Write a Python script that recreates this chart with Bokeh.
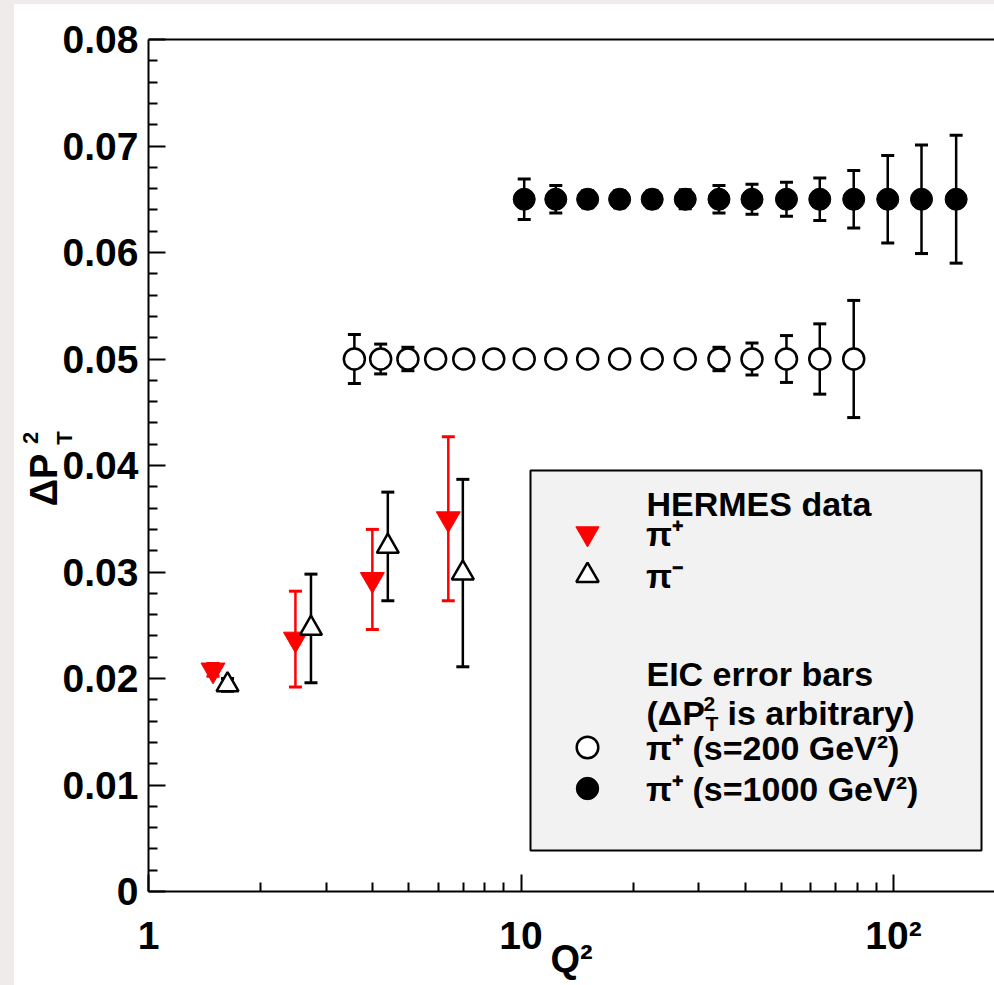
from bokeh.plotting import figure
from bokeh.models import (ColumnDataSource, Whisker, TeeHead, FixedTicker, CustomJSTickFormatter,
                          LogAxis, LinearAxis, BoxAnnotation, Label, Legend, LegendItem)
from bokeh.embed import file_html
from bokeh.resources import INLINE

# ---------------- data ----------------
hermes_pip_q2 = [1.49, 2.48, 3.99, 6.38]
hermes_pip_pt = [0.0208, 0.0237, 0.0293, 0.0350]
hermes_pip_err = [0.0006, 0.0045, 0.0047, 0.0077]

hermes_pim_q2 = [1.63, 2.73, 4.39, 6.98]
hermes_pim_pt = [0.0194, 0.0247, 0.0324, 0.0299]
hermes_pim_err = [0.0006, 0.0051, 0.0051, 0.0088]

eic200_q2 = [3.57, 4.20, 4.97, 5.90, 7.02, 8.45, 10.2, 12.4, 15.1, 18.4, 22.5, 27.6, 34.0, 41.7, 51.6, 63.4, 78.2]
eic200_pt = [0.05, 0.05, 0.05, 0.05, 0.05, 0.05, 0.05, 0.05, 0.05, 0.05, 0.05, 0.05, 0.05, 0.05, 0.05, 0.05, 0.05]
eic200_err = [0.0023, 0.0014, 0.0011, 0.0008, 0.0008, 0.0008, 0.0008, 0.0008, 0.0008, 0.0008, 0.0008, 0.0008,
              0.0011, 0.0015, 0.0022, 0.0033, 0.0055]

eic1000_q2 = [10.2, 12.4, 15.1, 18.4, 22.5, 27.6, 34.0, 41.7, 51.6, 63.4, 78.2, 96.5, 118.9, 147.3]
eic1000_pt = [0.065, 0.065, 0.065, 0.065, 0.065, 0.065, 0.065, 0.065, 0.065, 0.065, 0.065, 0.065, 0.065, 0.065]
eic1000_err = [0.0019, 0.0013, 0.0008, 0.0008, 0.0008, 0.0009, 0.0013, 0.0014, 0.0016, 0.0020, 0.0027,
               0.0041, 0.0051, 0.0060]

y_ticks = [0.0, 0.01, 0.02, 0.03, 0.04, 0.05, 0.06, 0.07, 0.08]
y_tick_labels = ["0", "0.01", "0.02", "0.03", "0.04", "0.05", "0.06", "0.07", "0.08"]
x_ticks = [1, 10, 100]
x_tick_labels = ["1", "10", "10\u00b2"]
x_minor = [2, 3, 4, 5, 6, 7, 8, 9, 20, 30, 40, 50, 60, 70, 80, 90]

# ---------------- layout helpers (canvas pixels -> data) ----------------
FL, FR, FT, FB = 148, 994, 39, 891
DEC = 372.5
W, H = 994, 985


def px2x(px):
    return 10 ** ((px - FL) / DEC)


def px2y(py):
    return 0.08 * (FB - py) / (FB - FT)


FONT = "Liberation Sans"
NB = "\u00a0"

p = figure(frame_width=FR - FL, frame_height=FB - FT, x_axis_type="log",
           x_range=(1, px2x(FR)), y_range=(0, 0.08),
           output_backend="svg", toolbar_location=None,
           min_border_left=FL, min_border_top=FT, min_border_right=0, min_border_bottom=H - FB)
p.xgrid.visible = False
p.ygrid.visible = False
p.outline_line_color = None
p.background_fill_color = "white"
p.border_fill_alpha = 0
p.styles = {"background": "linear-gradient(to right, #efebeb 14px, transparent 14px), "
                          "linear-gradient(to bottom, #efebeb 4px, #ffffff 4px)"}

minor_y = [round(i * 0.002, 3) for i in range(41) if i % 5 != 0]

p.yaxis.ticker = FixedTicker(ticks=y_ticks, minor_ticks=minor_y)
p.xaxis.ticker = FixedTicker(ticks=x_ticks, minor_ticks=x_minor)

fmt_code = """
for (let i = 0; i < vals.length; i++) {
  if (Math.abs(vals[i] - tick) < 1e-9 * Math.max(1, Math.abs(tick))) return labs[i];
}
return '';
"""
p.yaxis.formatter = CustomJSTickFormatter(args=dict(vals=y_ticks, labs=y_tick_labels), code=fmt_code)
p.xaxis.formatter = CustomJSTickFormatter(args=dict(vals=x_ticks, labs=x_tick_labels), code=fmt_code)

for ax in (p.xaxis[0], p.yaxis[0]):
    ax.axis_line_width = 2
    ax.axis_line_color = "black"
    ax.major_tick_in = 17
    ax.major_tick_out = 0
    ax.minor_tick_in = 9
    ax.minor_tick_out = 0
    ax.major_tick_line_width = 2
    ax.minor_tick_line_width = 2
    ax.major_tick_line_color = "black"
    ax.minor_tick_line_color = "black"
    ax.major_label_text_font = FONT
    ax.major_label_text_font_style = "bold"
    ax.major_label_text_font_size = "39px"
    ax.major_label_text_color = "black"
p.yaxis.major_label_standoff = 10
p.xaxis.major_label_standoff = 22

# x-axis title
p.xaxis.axis_label = "Q\u00b2"
p.xaxis.axis_label_text_font = FONT
p.xaxis.axis_label_text_font_style = "bold"
p.xaxis.axis_label_text_font_size = "38px"
p.xaxis.axis_label_text_color = "black"
p.xaxis.axis_label_standoff = -22

top_ax = LogAxis(ticker=FixedTicker(ticks=[]), axis_line_width=2, axis_line_color="black",
                 major_label_text_font_size="0px", major_tick_line_color=None,
                 minor_tick_line_color=None, major_label_standoff=0)
p.add_layout(top_ax, "above")


# y-axis title pieces, each as the label of a bare extra axis on the left
def title_axis(text, size, style, standoff):
    ax = LinearAxis(ticker=FixedTicker(ticks=[]),
                    axis_line_color=None, major_tick_line_color=None, minor_tick_line_color=None,
                    major_tick_out=0, minor_tick_out=0, major_tick_in=0, minor_tick_in=0,
                    major_label_standoff=0, major_label_text_font_size="0px",
                    axis_label=text, axis_label_text_font=FONT, axis_label_text_font_style=style,
                    axis_label_text_font_size=f"{size}px", axis_label_standoff=standoff,
                    axis_label_text_color="black")
    p.add_layout(ax, "left")


title_axis(NB * 9 + "T", 22, "bold", -17)
title_axis("\u0394P" + NB * 2 + "\u2009", 38, "bold", -16)
title_axis(NB * 9 + "2", 22, "bold", -23)


def add_series(q2, pt, err, color, marker, size, fill, lw):
    src = ColumnDataSource(dict(q2=q2, pt=pt,
                                lo=[a - b for a, b in zip(pt, err)],
                                hi=[a + b for a, b in zip(pt, err)]))
    w = Whisker(source=src, base="q2", upper="hi", lower="lo", dimension="height",
                line_color=color, line_width=2.5, level="underlay",
                upper_head=TeeHead(size=13, line_color=color, line_width=3),
                lower_head=TeeHead(size=13, line_color=color, line_width=3))
    p.add_layout(w)
    return p.scatter("q2", "pt", source=src, marker=marker, size=size,
                     fill_color=fill, line_color=color, line_width=lw)


r1000 = add_series(eic1000_q2, eic1000_pt, eic1000_err, "black", "circle", 22, "black", 1)
r200 = add_series(eic200_q2, eic200_pt, eic200_err, "black", "circle", 21, "white", 2.5)
rpip = add_series(hermes_pip_q2, hermes_pip_pt, hermes_pip_err, "red", "inverted_triangle", 24, "red", 1)
rpim = add_series(hermes_pim_q2, hermes_pim_pt, hermes_pim_err, "black", "triangle", 22, "white", 2.5)

# legend box
p.add_layout(BoxAnnotation(left=px2x(530), right=px2x(981), top=px2y(470), bottom=px2y(850),
                           fill_color="#f2f2f2", fill_alpha=1, line_color="black", line_width=2,
                           line_alpha=1))


def add_text(text, px, py, size, style="bold", angle=0):
    p.add_layout(Label(x=px2x(px), y=px2y(py), text=text, text_font=FONT, text_font_style=style,
                       text_font_size=f"{size}px", text_baseline="alphabetic", text_align="left",
                       text_color="black", angle=angle, angle_units="deg"))


add_text("HERMES data", 646, 503, 34)
add_text("EIC error bars", 646, 673, 34)
add_text("(\u0394P", 646, 712, 34)
add_text("2", 703, 703, 21)
add_text("T", 705, 723, 21)
add_text("is arbitrary)", 727, 712, 34)

leg_style = dict(padding=0, margin=0, border_line_color=None, background_fill_alpha=0,
                 label_text_font=FONT, label_text_font_style="bold", label_text_font_size="34px",
                 label_text_color="black", spacing=0)


def add_legend_item(label, renderer, cx, cy, box, text_left):
    half = box // 2
    leg = Legend(items=[LegendItem(label=label, renderers=[renderer])],
                 location=(cx - half - FL, FB - (cy + half)),
                 glyph_width=int(box), glyph_height=int(box),
                 label_standoff=int(text_left - (cx + half)),
                 **leg_style)
    p.add_layout(leg)


add_legend_item("\u03c0\u207a", rpip, 587, 533, 58, 646)
add_legend_item("\u03c0\u207b", rpim, 587, 575, 56, 646)
add_legend_item("\u03c0\u207a (s=200 GeV\u00b2)", r200, 587, 747, 54, 646)
add_legend_item("\u03c0\u207a (s=1000 GeV\u00b2)", r1000, 587, 788, 56, 646)

open("out.html", "w").write(file_html(p, INLINE))
